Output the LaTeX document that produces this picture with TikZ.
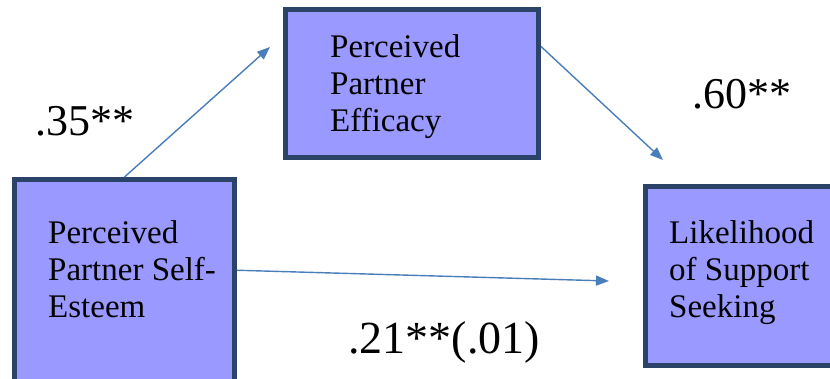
\documentclass[tikz,border=0pt]{standalone}
\usepackage{fontspec}
\setmainfont{Liberation Serif}
\usepackage{xcolor}
\usepackage{tikz}
\usetikzlibrary{arrows.meta, positioning, calc}

\definecolor{boxfill}{RGB}{153,153,255}
\definecolor{boxline}{RGB}{43,67,104}
\definecolor{pathblue}{RGB}{74,126,187}

\begin{document}
\begin{tikzpicture}[
        x=1pt, y=1pt,
        >={Triangle[length=13pt,width=10pt]},
        varbox/.style={rectangle, draw=boxline, line width=5pt, fill=boxfill, inner sep=0pt},
        vartext/.style={anchor=base west, inner sep=0pt, align=left, font=\fontsize{33}{37}\selectfont},
        coef/.style={anchor=base west, inner sep=0pt, font=\fontsize{44}{50}\selectfont},
        path/.style={->, draw=pathblue, fill=pathblue, line width=1.4pt}
    ]
    \useasboundingbox (0,0) rectangle (830,378);
    \clip (0,0) rectangle (830,378);

    % 1. Cac khoi bien
    \node[varbox, minimum width=220pt, minimum height=215.5pt] (esteem) at (124.5,90.75) {};
    \node[varbox, minimum width=253pt, minimum height=148pt] (efficacy) at (412,294.5) {};
    \node[varbox, minimum width=204.5pt, minimum height=179pt] (seeking) at (747.75,102) {};

    % Chu trong cac khoi (base = dong cuoi)
    \node[vartext] (esteemtext) at (48,61) {Perceived\\Partner Self-\\Esteem};
    \node[vartext] (efficacytext) at (330,246) {Perceived\\Partner\\Efficacy};
    \node[vartext] (seekingtext) at (669,61) {Likelihood\\of Support\\Seeking};

    % 2. He so duong dan
    \node[coef] (coefa) at (35,242) {.35**};
    \node[coef] (coefb) at (692,269) {.60**};
    \node[coef, font=\fontsize{46}{52}\selectfont] (coefc) at (348,25) {.21**(.01)};

    % 3. Mui ten
    \coordinate (efftip) at (270,331);
    \coordinate (seektop) at (663,218);
    \coordinate (seekleft) at (609,97);

    \draw[path] (esteem.north) -- (efftip);
    \draw[path] ([yshift=37pt]efficacy.east) -- (seektop);
    \draw[path] ([yshift=17pt]esteem.east) -- (seekleft);

\end{tikzpicture}
\end{document}
